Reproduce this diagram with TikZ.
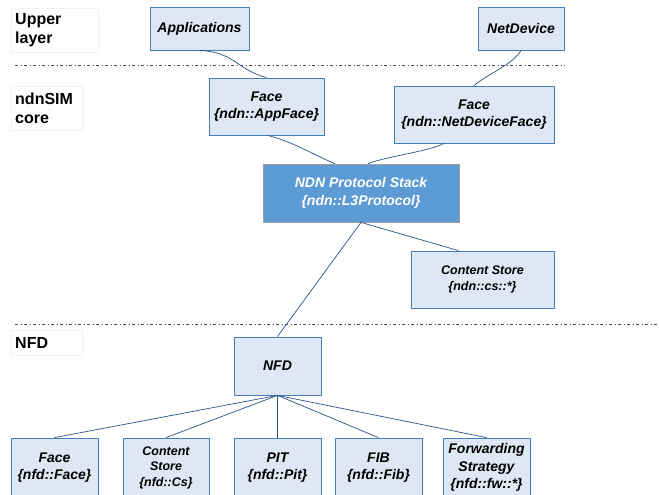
\documentclass[tikz,border=0pt]{standalone}
\usepackage{fontspec}
\setmainfont{Liberation Sans}
\definecolor{boxfill}{RGB}{222,232,244}
\definecolor{boxline}{RGB}{70,125,190}
\definecolor{stackfill}{RGB}{92,155,212}
\definecolor{wireblue}{RGB}{40,82,135}
\begin{document}
\begin{tikzpicture}[x=1pt, y=-1pt,
  box/.style={draw=boxline,fill=boxfill,line width=0.8pt,align=center,inner sep=1pt,font=\bfseries\itshape\fontsize{14}{17.5}\selectfont},
  smalltxt/.style={font=\bfseries\itshape\fontsize{12.5}{15.5}\selectfont},
  stackbox/.style={box,fill=stackfill,draw=gray!75,text=white},
  tier/.style={draw=black!5,fill=white,align=left,anchor=north west,inner xsep=4pt,inner ysep=0pt,font=\bfseries\fontsize{16}{19.5}\selectfont},
  wire/.style={draw=wireblue,line width=0.7pt},
  divider/.style={draw=gray!60!black,line width=1pt,dash pattern=on 3pt off 2.5pt on 1pt off 2.5pt}]
\useasboundingbox (0,0) rectangle (659,495);
% layer labels and separators
\node[tier,text width=79pt,minimum height=44pt] (lup) at (11,8) {Upper\\layer};
\node[tier,text width=63pt,minimum height=44pt] (lcore) at (11,86) {ndnSIM\\core};
\node[tier,text width=63pt,minimum height=25pt] (lnfd) at (11,330) {NFD};
\coordinate (s1w) at (15,66); \coordinate (s1e) at (565,66);
\coordinate (s2w) at (15,324); \coordinate (s2e) at (659,324);
\draw[divider] (s1w) -- (s1e); \draw[divider] (s2w) -- (s2e);
% upper layer
\node[box,minimum width=99pt,minimum height=43pt] (app) at (199.5,28.5) {Applications};
\node[box,minimum width=86pt,minimum height=43pt] (netdev) at (521,28.5) {NetDevice};
% ndnSIM core
\node[box,minimum width=115pt,minimum height=57pt] (appface) at (266.5,106.5) {Face\\\{ndn::AppFace\}};
\node[box,minimum width=160pt,minimum height=57pt] (devface) at (474,114.5) {Face\\\{ndn::NetDeviceFace\}};
\node[stackbox,minimum width=196pt,minimum height=58pt] (stack) at (361,193) {NDN Protocol Stack\\\{ndn::L3Protocol\}};
\node[box,smalltxt,minimum width=143pt,minimum height=57pt] (ndncs) at (482.5,279.5) {Content Store\\\{ndn::cs::*\}};
% NFD
\node[box,minimum width=87pt,minimum height=58pt] (nfd) at (277.5,366) {NFD};
\node[box,minimum width=87pt,minimum height=59pt] (face) at (54.5,467.5) {Face\\\{nfd::Face\}};
\node[box,smalltxt,minimum width=86pt,minimum height=59pt] (cs) at (166,467.5) {Content\\Store\\\{nfd::Cs\}};
\node[box,minimum width=87pt,minimum height=59pt] (pit) at (277.5,467.5) {PIT\\\{nfd::Pit\}};
\node[box,minimum width=87pt,minimum height=59pt] (fib) at (378.5,467.5) {FIB\\\{nfd::Fib\}};
\node[box,minimum width=87pt,minimum height=59pt] (fw) at (486.5,467.5) {Forwarding\\Strategy\\\{nfd::fw::*\}};
% links
\draw[wire] (app.south) .. controls +(36,2) and +(-30,-8) .. (appface.north);
\draw[wire] (netdev.south) .. controls +(-8,14) and +(14,-12) .. (devface.north);
\draw[wire] ([xshift=1pt]appface.south) .. controls +(25,6) and +(-20,-8) .. ([xshift=-26pt]stack.north);
\draw[wire] ([xshift=-30pt]devface.south) .. controls +(-15,8) and +(22,-8) .. ([xshift=7pt]stack.north);
\draw[wire] (stack.south) -- ([xshift=-24pt]ndncs.north);
\draw[wire] (stack.south) -- (nfd.north);
\foreach \t in {face,cs,pit,fib,fw} \draw[wire] (nfd.south) -- (\t.north);
\end{tikzpicture}
\end{document}
